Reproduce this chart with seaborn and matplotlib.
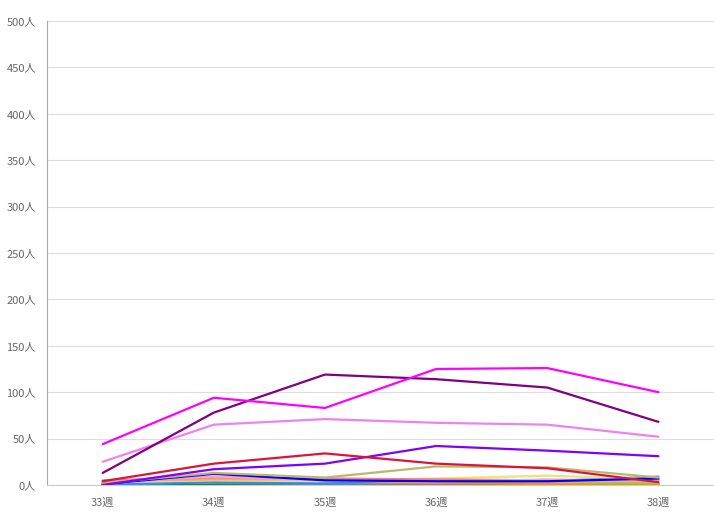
import pandas as pd
import matplotlib.pyplot as plt
import seaborn as sns

# weeks on the x axis
weeks = ['33週', '34週', '35週', '36週', '37週', '38週']

# series values (people per week)
s_magenta = [44, 94, 83, 125, 126, 100]
s_purple = [13, 78, 119, 114, 105, 68]
s_violet = [25, 65, 71, 67, 65, 52]
s_crimson = [4, 23, 34, 23, 18, 3]
s_blueviolet = [0, 17, 23, 42, 37, 31]
s_khaki = [2, 13, 8, 20, 19, 8]
s_blue = [1, 12, 5, 4, 4, 7]
s_coral = [5, 8, 7, 6, 5, 6]
s_yellow = [3, 5, 4, 7, 10, 6]
s_dodger = [0, 3, 2, 5, 4, 9]
s_orange = [1, 4, 3, 2, 1, 1]
s_green = [1, 1, 1, 1, 1, 0]
s_gray = [2, 2, 1, 1, 2, 1]
s_teal = [0, 1, 2, 3, 2, 1]
s_lime = [1, 3, 4, 4, 3, 2]
s_salmon = [4, 6, 6, 5, 3, 5]
s_pink = [3, 9, 5, 3, 6, 4]

series = {
    'teal': (s_teal, '#20B2AA'),
    'green': (s_green, '#008000'),
    'gray': (s_gray, '#808080'),
    'orange': (s_orange, '#FF8C00'),
    'lime': (s_lime, '#9ACD32'),
    'dodger': (s_dodger, '#1E90FF'),
    'yellow': (s_yellow, '#E6E680'),
    'salmon': (s_salmon, '#FFA07A'),
    'coral': (s_coral, '#F08080'),
    'pink': (s_pink, '#F4A6B8'),
    'blue': (s_blue, '#0000FF'),
    'khaki': (s_khaki, '#BDB76B'),
    'blueviolet': (s_blueviolet, '#7F00FF'),
    'crimson': (s_crimson, '#DC143C'),
    'violet': (s_violet, '#EE82EE'),
    'purple': (s_purple, '#800080'),
    'magenta': (s_magenta, '#FF00FF'),
}

rows = []
for name, (vals, _) in series.items():
    for w, v in zip(weeks, vals):
        rows.append({'week': w, 'value': v, 'series': name})
df = pd.DataFrame(rows)
palette = {name: c for name, (_, c) in series.items()}

sns.set_style('white')
plt.rcParams['font.family'] = ['Noto Sans CJK JP', 'DejaVu Sans']

fig = plt.figure(figsize=(7.14, 5.26), dpi=100)
ax = fig.add_axes([0.066, 0.078, 0.934, 0.882])

sns.lineplot(data=df, x='week', y='value', hue='series', palette=palette,
             hue_order=list(series.keys()), sort=False, linewidth=1.6,
             legend=False, ax=ax)

ax.set_xlim(-0.5, 5.5)
ax.set_ylim(0, 500)
yt = list(range(0, 501, 50))
ax.set_yticks(yt)
ax.set_yticklabels([f'{v}人' for v in yt])
ax.set_xlabel('')
ax.set_ylabel('')
ax.yaxis.grid(True, color='#dddddd', linewidth=0.8)
ax.xaxis.grid(False)
ax.set_axisbelow(True)
ax.tick_params(axis='both', length=0, labelsize=8, colors='#666666')
ax.tick_params(axis='x', pad=9)
ax.tick_params(axis='y', pad=8)
for s in ['top', 'right']:
    ax.spines[s].set_visible(False)
ax.spines['left'].set_color('#aaaaaa')
ax.spines['bottom'].set_color('#cccccc')
ax.spines['left'].set_linewidth(0.8)
ax.spines['bottom'].set_linewidth(0.8)

fig.savefig('out.png', dpi=100)
